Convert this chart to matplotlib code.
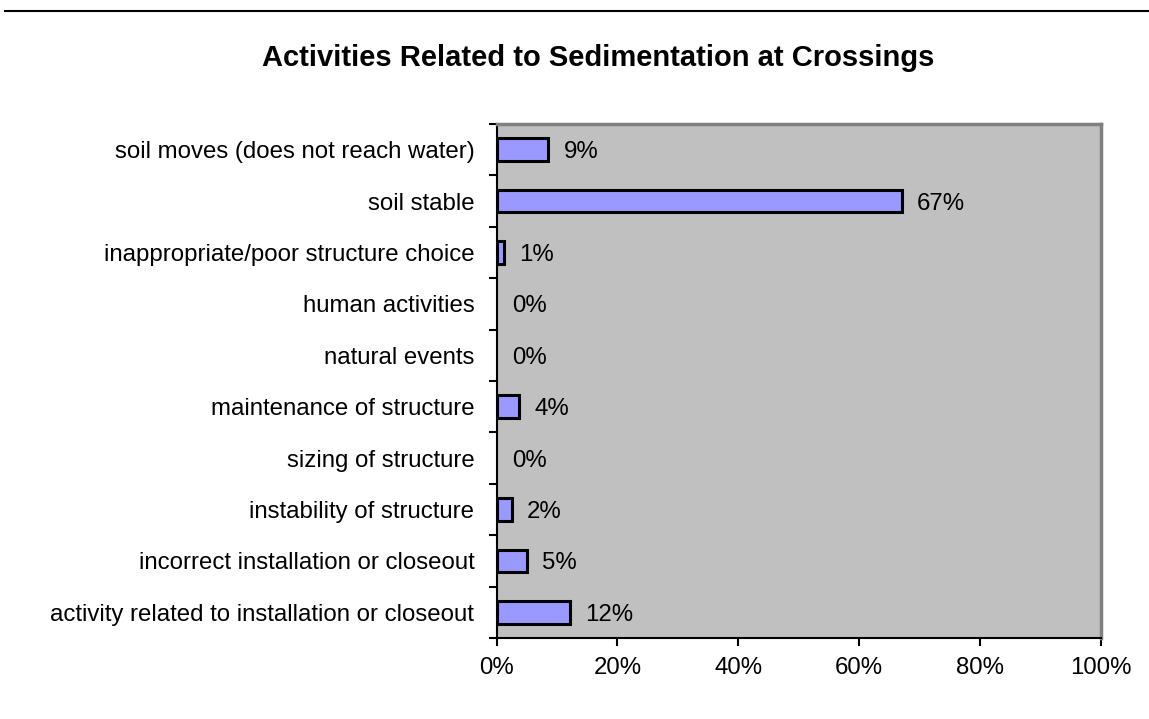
import matplotlib
matplotlib.use("Agg")
import matplotlib.pyplot as plt
from matplotlib.lines import Line2D

plt.rcParams['font.family'] = ['Liberation Sans', 'DejaVu Sans']

categories = [
    "soil moves (does not reach water)",
    "soil stable",
    "inappropriate/poor structure choice",
    "human activities",
    "natural events",
    "maintenance of structure",
    "sizing of structure",
    "instability of structure",
    "incorrect installation or closeout",
    "activity related to installation or closeout",
]
percent = [8.6, 67.0, 1.2, 0.0, 0.0, 3.8, 0.0, 2.5, 5.0, 12.2]
x_ticks = [0, 20, 40, 60, 80, 100]

LABEL_SIZE = 17.3

fig = plt.figure(figsize=(11.49, 7.19), dpi=100)
ax = fig.add_axes([496.5 / 1149, 1 - 638 / 719, 604.5 / 1149, 514 / 719])

n = len(categories)
ypos = list(range(n))
edge_widths = [2.2 if v > 0 else 0.0 for v in percent]
ax.barh(ypos, percent, height=0.44, color="#9999FF", edgecolor="black",
        linewidth=edge_widths, zorder=3)
for y, v in zip(ypos, percent):
    ax.annotate(f"{v:.0f}%", xy=(v, y), xytext=(11, 0), textcoords="offset points",
                ha="left", va="center_baseline", fontsize=LABEL_SIZE, color="black")

ax.set_xlim(0, 100)
ax.set_ylim(n - 0.5, -0.5)
ax.set_facecolor("#C0C0C0")

ax.set_xticks(x_ticks)
ax.set_xticklabels([f"{t}%" for t in x_ticks], fontsize=LABEL_SIZE)
ax.tick_params(axis="x", direction="out", length=6, width=1.5, pad=8)

# categories labelled at bar centres, ticks at category boundaries
ax.set_yticks(ypos)
ax.set_yticklabels(categories, fontsize=LABEL_SIZE)
ax.tick_params(axis="y", which="major", length=0, pad=16)
ax.set_yticks([i - 0.5 for i in range(n + 1)], minor=True)
ax.tick_params(axis="y", which="minor", direction="out", length=6, width=1.5)

for side in ("top", "right"):
    ax.spines[side].set_color("#808080")
    ax.spines[side].set_linewidth(2.5)
for side in ("left", "bottom"):
    ax.spines[side].set_color("black")
    ax.spines[side].set_linewidth(1.5)

fig.text(598 / 1149, 1 - 58 / 719, "Activities Related to Sedimentation at Crossings",
         ha="center", va="center", fontsize=21, fontweight="bold")

fig.add_artist(Line2D([5 / 1149, 1.0], [1 - 11 / 719, 1 - 11 / 719],
                      color="black", linewidth=1.5, transform=fig.transFigure))

fig.savefig("out.png", dpi=100)
